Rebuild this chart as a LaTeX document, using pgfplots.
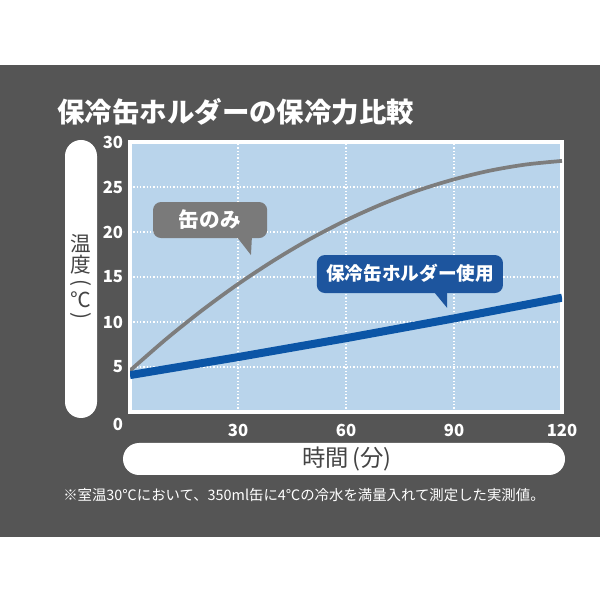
\documentclass[border=0pt]{standalone}
\usepackage{fontspec}
\setmainfont{Noto Sans CJK JP}
\usepackage{pgfplots}
\pgfplotsset{compat=1.18}
\definecolor{panel}{HTML}{555555}
\definecolor{bgblue}{HTML}{B9D4EB}
\definecolor{curvegray}{HTML}{7D7D7D}
\definecolor{boxgray}{HTML}{7A7A7A}
\definecolor{lineblue}{HTML}{0B55A6}
\definecolor{boxblue}{HTML}{1D559E}
\definecolor{labelgray}{HTML}{444444}
\begin{document}
\begin{tikzpicture}[x=0.75pt,y=0.75pt]
\useasboundingbox (0,0) rectangle (600,600);
\fill[white] (0,0) rectangle (600,600);
\fill[panel] (0,63) rectangle (600,535);
\node[anchor=west, text=white, font=\fontsize{20.6}{24}\selectfont\bfseries, inner sep=0pt] at (57,488) {保冷缶ホルダーの保冷力比較};
% y label pill
\fill[white, rounded corners=12pt] (65,182) rectangle (97,460);
\node[text=labelgray, font=\fontsize{15.5}{17}\selectfont, inner sep=0pt] at (81,356) {温};
\node[text=labelgray, font=\fontsize{15.5}{17}\selectfont, inner sep=0pt] at (81,335.5) {度};
\node[text=labelgray, font=\fontsize{15.5}{17}\selectfont, inner sep=0pt, rotate=-90] at (81,317) {(};
\node[text=labelgray, font=\fontsize{15.5}{17}\selectfont, inner sep=0pt] at (81,300) {℃};
\node[text=labelgray, font=\fontsize{15.5}{17}\selectfont, inner sep=0pt, rotate=-90] at (81,284) {)};
% x label pill
\fill[white, rounded corners=12pt] (123,125) rectangle (565,157);
\node[text=labelgray, font=\fontsize{17.5}{19}\selectfont, inner sep=0pt] at (347,141) {時間\,(分)};
% footnote
\node[anchor=west, text=white, font=\fontsize{10.8}{12}\selectfont, inner sep=0pt] at (63,105) {※室温30℃において、350ml缶に4℃の冷水を満量入れて測定した実測値。};
\begin{axis}[
  at={(97.5pt,141pt)}, anchor=south west,
  scale only axis, width=324pt, height=202.5pt,
  xmin=0, xmax=120, ymin=0, ymax=30,
  xtick={30,60,90,120}, ytick={5,10,15,20,25,30},
  axis background/.style={fill=bgblue},
  axis line style={draw=white, line width=3pt},
  tick style={draw=none},
  grid=major,
  major grid style={draw=white, line width=1pt, dash pattern=on 1.1pt off 1.4pt},
  /pgf/number format/assume math mode=true,
  ticklabel style={text=white, font=\fontsize{12.5}{14}\selectfont\bfseries},
  xticklabel style={anchor=center, yshift=-13.5pt},
  yticklabel style={anchor=east, inner sep=0pt, xshift=-5pt},
]
\addplot[curvegray, line width=2.8pt, smooth] coordinates {(0,4.6)(10,8.09)(20,11.29)(30,14.21)(40,16.85)(50,19.22)(60,21.3)(70,23.1)(80,24.62)(90,25.85)(100,26.82)(110,27.5)(120,27.9)};
\addplot[lineblue, line width=6pt] coordinates {(0,4.1)(30,6.1)(60,8.2)(90,10.4)(120,12.7)};
\fill[boxgray, rounded corners=6pt] (axis cs:6.4,19.33) rectangle (axis cs:38.1,23.33);
\fill[boxgray] (axis cs:29.2,19.7) -- (axis cs:33.9,19.7) -- (axis cs:33.6,17.44) -- cycle;
\node[text=white, font=\fontsize{15.5}{18}\selectfont\bfseries] at (axis cs:22.2,21.33) {缶のみ};
\fill[boxblue, rounded corners=6pt] (axis cs:51.9,13.22) rectangle (axis cs:103.6,17.44);
\fill[boxblue] (axis cs:83.9,13.6) -- (axis cs:88.1,13.6) -- (axis cs:88.1,11.56) -- cycle;
\node[text=white, font=\fontsize{14}{16}\selectfont\bfseries] at (axis cs:77.8,15.44) {保冷缶ホルダー使用};
\end{axis}
\node[text=white, font=\fontsize{12.5}{14}\selectfont\bfseries] at (118,176) {0};
\end{tikzpicture}
\end{document}
